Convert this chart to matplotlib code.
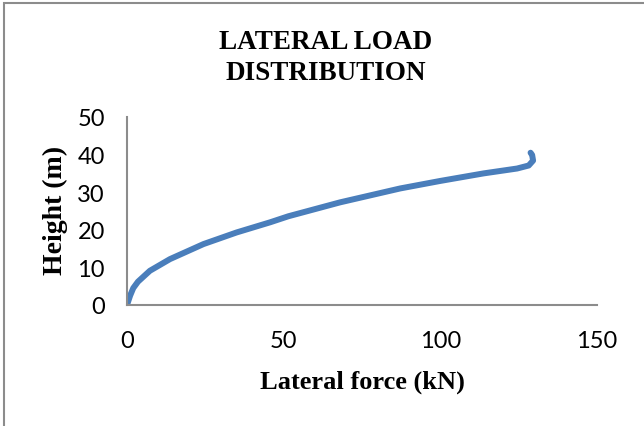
import matplotlib
matplotlib.use("Agg")
import matplotlib.pyplot as plt
from matplotlib.patches import Rectangle

# values
force = [0, 1.0, 2.0, 3.5, 7.3, 13.7, 24.4, 35, 45.7, 51.5, 68, 87.2, 100,
         113.8, 124.5, 128.2, 129.6, 129.3, 128.8]
height = [0, 2.5, 4.5, 6.2, 9.1, 12.2, 16.2, 19.3, 22, 23.6, 27.3, 31.0, 33.0,
          35.0, 36.3, 37.1, 38.4, 39.9, 40.5]
xticks = [0, 50, 100, 150]
yticks = [0, 10, 20, 30, 40, 50]

fig = plt.figure(figsize=(6.44, 4.27), dpi=100, facecolor="white")
ax = fig.add_axes([127/644, 1-306/427, (597-127)/644, (306-118)/427])

ax.plot(force, height, color="#4A7EBB", linewidth=4.3, solid_capstyle="round",
        solid_joinstyle="round")

ax.set_xlim(0, 150)
ax.set_ylim(0, 50)
ax.set_xticks(xticks)
ax.set_yticks(yticks)
for s in ["top", "right"]:
    ax.spines[s].set_visible(False)
for s in ["left", "bottom"]:
    ax.spines[s].set_color("#8C8C8C")
    ax.spines[s].set_linewidth(1.5)
ax.tick_params(length=0, labelsize=17)
ax.tick_params(axis="x", pad=18)
ax.tick_params(axis="y", pad=16)
for lab in ax.get_xticklabels() + ax.get_yticklabels():
    lab.set_fontfamily("Lato")

serif = dict(family="Liberation Serif", fontweight="bold")
fig.text(326/644, 1-58/427, "LATERAL LOAD\nDISTRIBUTION", ha="center",
         va="center", fontsize=19.5, linespacing=1.3, **serif)
fig.text(362/644, 1-382/427, "Lateral force (kN)", ha="center", va="center",
         fontsize=19, **serif)
fig.text(55/644, 1-210/427, "Height (m)", ha="center", va="center",
         rotation=90, fontsize=20, **serif)

# outer frame like the pasted chart
fig.patches.append(Rectangle((4/644, -0.1), 1.2, 1-4/427+0.1,
                             transform=fig.transFigure, fill=False,
                             edgecolor="#8C8C8C", linewidth=1.5))

fig.savefig("out.png", dpi=100)
